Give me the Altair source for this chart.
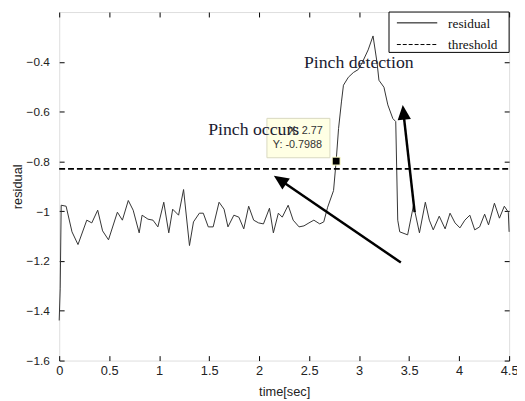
import altair as alt
import pandas as pd

# ---- data ----
time_s = [0.000, 0.010, 0.020, 0.069, 0.128, 0.188, 0.276, 0.326, 0.385, 0.434,
          0.493, 0.582, 0.632, 0.691, 0.740, 0.800, 0.829, 0.888, 0.938, 0.987,
          1.046, 1.096, 1.135, 1.194, 1.244, 1.303, 1.343, 1.402, 1.441, 1.491,
          1.540, 1.599, 1.649, 1.688, 1.747, 1.797, 1.846, 1.895, 1.945, 1.994,
          2.043, 2.103, 2.142, 2.192, 2.231, 2.290, 2.340, 2.399, 2.448, 2.498,
          2.547, 2.606, 2.646, 2.685, 2.744, 2.770, 2.794, 2.823, 2.843, 2.892,
          2.942, 2.991, 3.031, 3.090, 3.139, 3.179, 3.198, 3.248, 3.287, 3.337,
          3.366, 3.386, 3.406, 3.485, 3.544, 3.603, 3.662, 3.702, 3.741, 3.801,
          3.860, 3.909, 3.959, 4.008, 4.057, 4.107, 4.156, 4.205, 4.255, 4.294,
          4.353, 4.403, 4.452, 4.492, 4.500]
residual = [-1.439, -1.312, -0.976, -0.980, -1.083, -1.134, -1.036, -1.047, -0.996, -1.079,
            -1.115, -1.004, -1.036, -0.957, -0.996, -1.087, -1.016, -1.032, -1.036, -1.063,
            -0.964, -1.087, -0.992, -1.016, -0.913, -1.138, -1.043, -1.008, -1.008, -1.063,
            -1.063, -0.964, -0.992, -1.063, -1.016, -1.024, -1.071, -0.980, -1.036, -1.047,
            -1.051, -0.988, -1.087, -1.008, -1.024, -0.976, -1.036, -1.063, -1.059, -1.047,
            -1.036, -1.051, -1.043, -0.984, -0.917, -0.7988, -0.668, -0.561, -0.494, -0.462,
            -0.443, -0.431, -0.403, -0.352, -0.296, -0.403, -0.474, -0.502, -0.573, -0.628,
            -0.640, -1.036, -1.083, -1.095, -0.976, -1.087, -0.964, -1.036, -1.075, -1.020,
            -1.071, -1.008, -1.047, -1.067, -1.036, -1.016, -1.075, -1.063, -1.012, -1.055,
            -0.968, -1.028, -0.980, -1.004, -1.083]
threshold_value = -0.83
x_ticks = [0, 0.5, 1, 1.5, 2, 2.5, 3, 3.5, 4, 4.5]
y_ticks = [-1.6, -1.4, -1.2, -1.0, -0.8, -0.6, -0.4]

tip_x = [2.77]
tip_y = [-0.7988]

# arrows: tail -> shaft end, and head tip with direction
arrow_tail_x = [3.417, 3.555]
arrow_tail_y = [-1.206, -1.004]
arrow_end_x = [2.228, 3.445]
arrow_end_y = [-0.880, -0.612]
arrow_tip_x = [2.147, 3.436]
arrow_tip_y = [-0.858, -0.573]
arrow_angle = [304, 354]

label_text = ["Pinch occurs", "Pinch detection"]
label_x = [1.49, 2.448]
label_y = [-0.692, -0.423]

W, H = 457, 354
xs = alt.Scale(domain=[0, 4.5], nice=False, zero=False)
ys = alt.Scale(domain=[-1.6, -0.2], nice=False, zero=False)

common = dict(domain=False, grid=False, ticks=True, tickColor="black",
              tickSize=5, tickWidth=1, offset=-5, labelOverlap=False, labelFlush=False)

x_bottom = alt.Axis(orient="bottom", values=x_ticks, format=".1~f",
                    labelFont="Liberation Sans", labelFontSize=13, labelColor="#222",
                    labelPadding=4, title="time[sec]", titleFont="Liberation Sans",
                    titleFontSize=13, titleFontWeight="normal", titleColor="#222",
                    titlePadding=8, **common)
y_left = alt.Axis(orient="left", values=y_ticks, format=".1~f",
                  labelFont="Liberation Sans", labelFontSize=12, labelColor="#222",
                  labelPadding=10, title="residual", titleFont="Liberation Sans",
                  titleFontSize=13, titleFontWeight="normal", titleColor="#222",
                  titlePadding=2, **common)
x_top = alt.Axis(orient="top", values=x_ticks, labels=False, title=None, **common)
y_right = alt.Axis(orient="right", values=y_ticks, labels=False, title=None, **common)

df = pd.DataFrame({"t": time_s, "r": residual})
line = alt.Chart(df).mark_line(color="#333", strokeWidth=1).encode(
    x=alt.X("t:Q", scale=xs, axis=x_bottom),
    y=alt.Y("r:Q", scale=ys, axis=y_left),
)

thr = alt.Chart(pd.DataFrame({"x0": [0], "x1": [4.5], "v": [threshold_value]})).mark_rule(
    color="black", strokeWidth=1.6, strokeDash=[6, 3]
).encode(
    x=alt.X("x0:Q", scale=xs, axis=x_top),
    x2="x1:Q",
    y=alt.Y("v:Q", scale=ys, axis=y_right),
)

arr_df = pd.DataFrame({"x": arrow_tail_x, "y": arrow_tail_y, "x2": arrow_end_x, "y2": arrow_end_y,
                       "tx": arrow_tip_x, "ty": arrow_tip_y, "a": arrow_angle})
shafts = alt.Chart(arr_df).mark_rule(color="black", strokeWidth=2.5).encode(
    x=alt.X("x:Q", scale=xs, axis=None), y=alt.Y("y:Q", scale=ys, axis=None),
    x2="x2:Q", y2="y2:Q",
)
heads = alt.Chart(arr_df).mark_point(
    shape="M0,0L-0.9,2L0.9,2Z", filled=True, size=225, color="black", opacity=1
).encode(
    x=alt.X("tx:Q", scale=xs, axis=None), y=alt.Y("ty:Q", scale=ys, axis=None),
    angle=alt.Angle("a:Q", scale=None),
)

one = pd.DataFrame({"k": [0]})
tipbox = alt.Chart(one).mark_rect(fill="#ffffe4", stroke="#d8d8c0", strokeWidth=1).encode(
    x=alt.value(211), x2=alt.value(275), y=alt.value(108), y2=alt.value(148)
)
tiptext = alt.Chart(pd.DataFrame({"s": ["X: 2.77", "Y: -0.7988"], "px": [233, 217], "py": [124, 138]})
                    ).mark_text(font="Liberation Sans", fontSize=11, color="#333", align="left",
                                baseline="alphabetic").encode(
    x=alt.X("px:Q", scale=None, axis=None), y=alt.Y("py:Q", scale=None, axis=None), text="s:N"
)
marker = alt.Chart(pd.DataFrame({"x": tip_x, "y": tip_y})).mark_point(
    shape="square", filled=True, size=64, fill="black", stroke="#ffffc8", strokeWidth=1, opacity=1
).encode(x=alt.X("x:Q", scale=xs, axis=None), y=alt.Y("y:Q", scale=ys, axis=None))

labels = alt.Chart(pd.DataFrame({"s": label_text, "x": label_x, "y": label_y})).mark_text(
    font="Liberation Serif", fontSize=18, color="#1a1a30", align="left", baseline="alphabetic"
).encode(x=alt.X("x:Q", scale=xs, axis=None), y=alt.Y("y:Q", scale=ys, axis=None), text="s:N")

legbox = alt.Chart(one).mark_rect(fill="white", stroke="black", strokeWidth=1).encode(
    x=alt.value(335), x2=alt.value(457), y=alt.value(0), y2=alt.value(41)
)
leg_solid = alt.Chart(one).mark_rule(color="black", strokeWidth=1).encode(
    x=alt.value(343), x2=alt.value(384), y=alt.value(11)
)
leg_dash = alt.Chart(one).mark_rule(color="black", strokeWidth=1, strokeDash=[4, 2]).encode(
    x=alt.value(343), x2=alt.value(384), y=alt.value(33)
)
leg_text = alt.Chart(pd.DataFrame({"s": ["residual", "threshold"], "py": [12, 34]})).mark_text(
    font="Liberation Serif", fontSize=13.5, color="#111", align="left", baseline="middle"
).encode(x=alt.value(395), y=alt.Y("py:Q", scale=None, axis=None), text="s:N")

chart = alt.layer(
    line, thr, shafts, heads, tipbox, tiptext, marker, labels, legbox, leg_solid, leg_dash, leg_text
).resolve_axis(x="independent", y="independent").properties(
    width=W, height=H,
    autosize=alt.AutoSizeParams(type="none"),
    padding={"left": 52, "top": 1, "right": 8, "bottom": 40},
).configure_view(stroke="black", strokeWidth=1).configure(background="white")

chart.save("out.html", embed_options={"renderer": "svg", "actions": False})
